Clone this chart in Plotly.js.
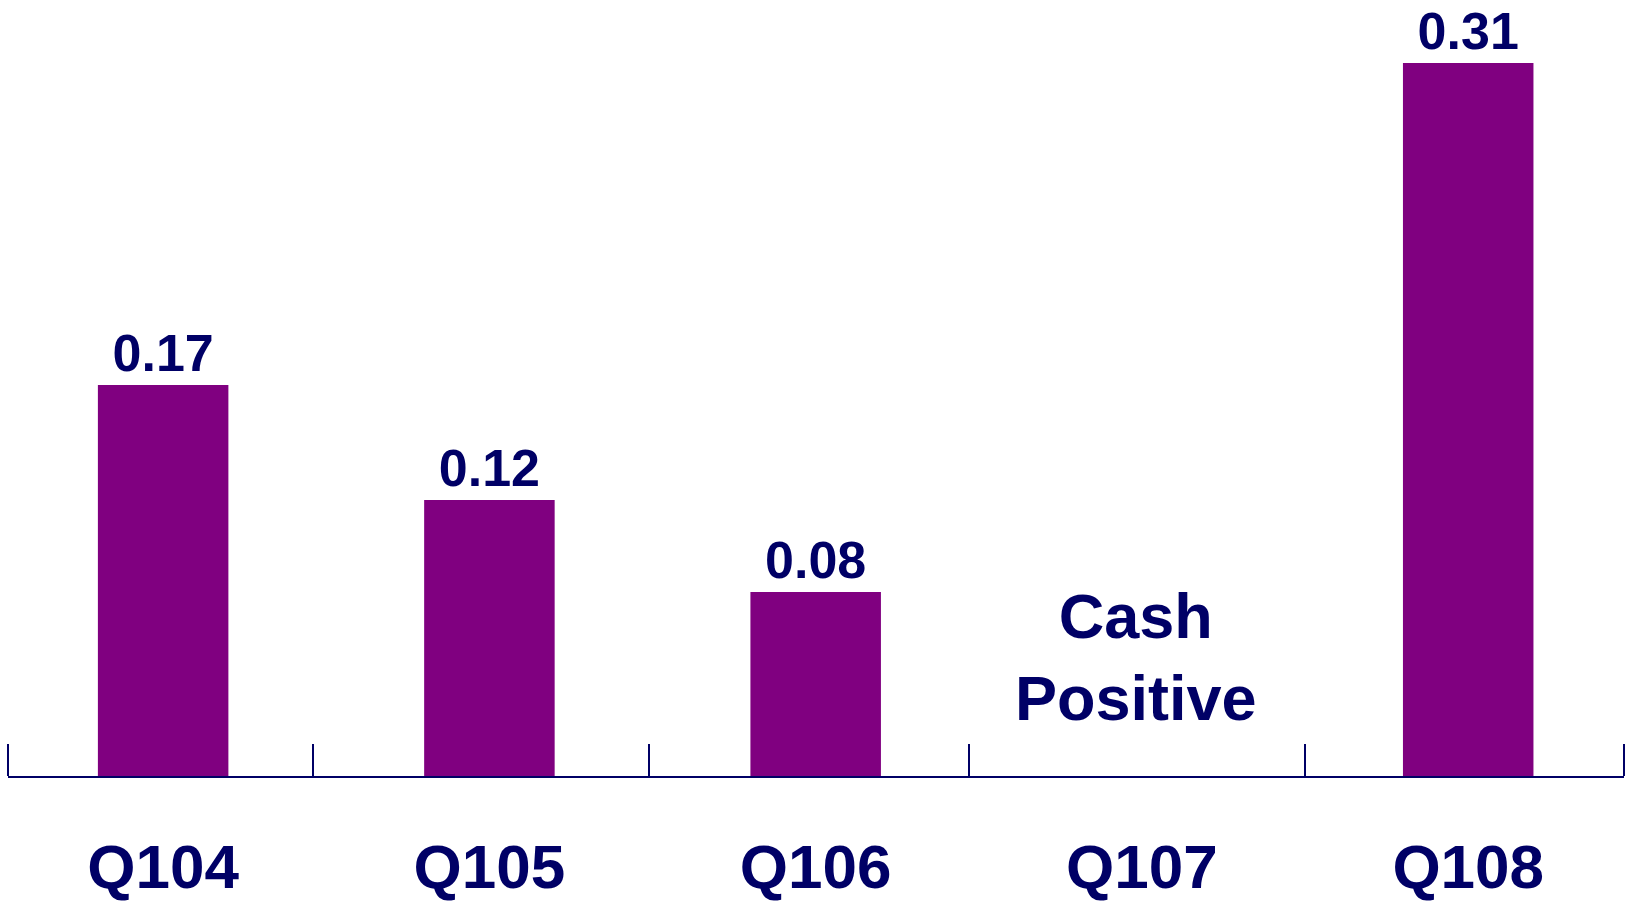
<!DOCTYPE html>
<html>
<head>
<meta charset="utf-8">
<script src="https://cdn.plot.ly/plotly-3.0.1.min.js"></script>
<style>html,body{margin:0;padding:0;background:#fff;}#chart{width:1625px;height:903px;}</style>
</head>
<body>
<div id="chart"></div>
<script>
var categories = ['Q104', 'Q105', 'Q106', 'Q107', 'Q108'];
var values = [0.17, 0.12, 0.08, null, 0.31];
var noteText = 'Cash<br>Positive';
var noteCategory = 'Q107';
var boundaries = [-0.4755, 0.46, 1.49, 2.47, 3.5, 4.4775];

var navy = '#000066';
var purple = '#800080';
var fam = 'Liberation Sans, Arial, Helvetica, sans-serif';
var idx = categories.map(function (c, i) { return i; });

var trace = {
  type: 'bar',
  x: idx,
  y: values,
  marker: { color: purple, line: { width: 0 } },
  texttemplate: '%{y:.2f}',
  textposition: 'outside',
  cliponaxis: false,
  textfont: { family: fam, size: 52, color: navy, weight: 700 },
  hoverinfo: 'skip'
};

var layout = {
  width: 1625, height: 903,
  margin: { l: 8, r: 1, t: 0, b: 127 },
  paper_bgcolor: '#fff', plot_bgcolor: '#fff',
  showlegend: false,
  bargap: 0.6,
  xaxis: {
    type: 'linear',
    range: [boundaries[0], boundaries[boundaries.length - 1]],
    tickmode: 'array',
    tickvals: idx,
    ticktext: categories,
    ticks: '',
    ticklabelstandoff: 36,
    tickfont: { family: fam, size: 62, color: navy, weight: 700 },
    showline: true, linecolor: navy, linewidth: 2,
    showgrid: false, zeroline: false,
    minor: { tickmode: 'array', tickvals: boundaries, ticks: 'inside', ticklen: 32, tickwidth: 2, tickcolor: navy, showgrid: false }
  },
  yaxis: {
    range: [0, 0.3374],
    visible: false, showgrid: false, zeroline: false
  },
  annotations: [{
    x: categories.indexOf(noteCategory), y: 0,
    xref: 'x', yref: 'y',
    text: noteText,
    showarrow: false,
    yanchor: 'bottom', yshift: 41, xshift: -6,
    font: { family: fam, size: 63, color: navy, weight: 700 }
  }]
};

Plotly.newPlot('chart', [trace], layout, { displayModeBar: false, staticPlot: true });
</script>
</body>
</html>
